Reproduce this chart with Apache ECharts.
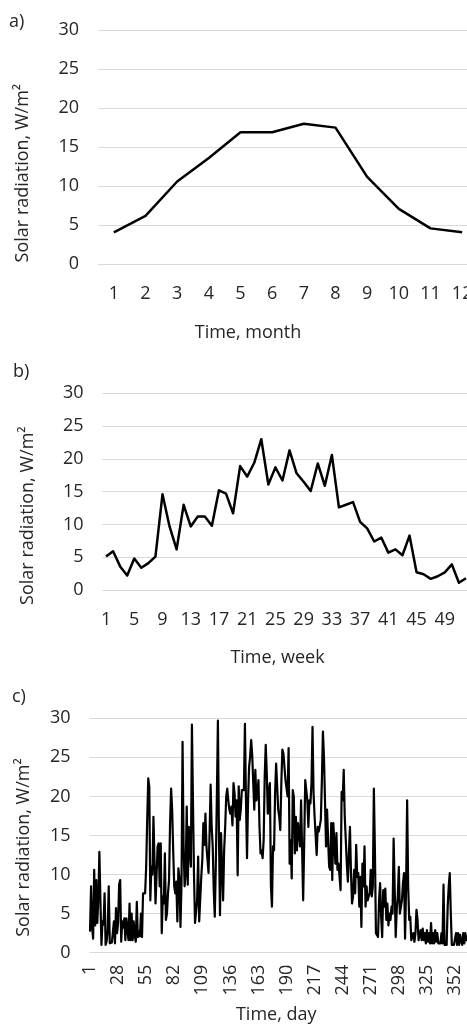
<!DOCTYPE html>
<html>
<head>
<meta charset="utf-8">
<script src="https://cdn.jsdelivr.net/npm/echarts@6/dist/echarts.min.js"></script>
<style>
  html, body { margin: 0; padding: 0; background: #fff; }
  #chart { width: 467px; height: 1025px; }
</style>
</head>
<body>
<div id="chart"></div>
<script>
// ---- data ----
const months = ['1','2','3','4','5','6','7','8','9','10','11','12'];
const monthValues = [4.1, 6.2, 10.6, 13.6, 16.9, 16.9, 18.0, 17.5, 11.2, 7.1, 4.6, 4.1];

const weeks = ['1','2','3','4','5','6','7','8','9','10','11','12','13','14','15','16','17','18','19','20',
  '21','22','23','24','25','26','27','28','29','30','31','32','33','34','35','36','37','38','39','40',
  '41','42','43','44','45','46','47','48','49','50','51','52'];
const weekValues = [5.1, 5.9, 3.6, 2.2, 4.8, 3.4, 4.1, 5.1, 14.6, 9.7,
  6.2, 13.0, 9.7, 11.2, 11.2, 9.8, 15.2, 14.7, 11.7, 18.9,
  17.3, 19.4, 23.0, 16.1, 18.7, 16.7, 21.3, 17.8, 16.5, 15.1,
  19.3, 15.9, 20.6, 12.6, 13.0, 13.4, 10.4, 9.4, 7.4, 8.0,
  5.7, 6.2, 5.3, 8.3, 2.7, 2.4, 1.7, 2.1, 2.7, 3.9,
  1.1, 1.8];

// daily values, days 1-90
const dayValuesPart1 = [2.7, 8.5, 3.3, 1.8, 10.6, 3.5, 9.3, 3.8, 7.0, 12.9,
  6.7, 1.0, 4.0, 3.6, 7.6, 1.0, 1.5, 2.9, 8.5, 1.2,
  1.2, 1.3, 1.2, 4.0, 1.2, 5.7, 2.5, 3.8, 8.7, 9.3,
  1.4, 4.0, 3.2, 4.4, 1.6, 4.4, 3.0, 1.6, 6.3, 1.6,
  5.0, 1.6, 4.0, 2.2, 1.4, 6.5, 2.0, 2.7, 2.1, 5.0,
  2.0, 7.6, 7.8, 7.6, 11.0, 17.0, 22.3, 21.2, 6.7, 11.0,
  10.0, 17.4, 11.8, 6.3, 6.3, 13.6, 14.0, 8.5, 14.0, 2.5,
  7.2, 6.3, 12.7, 4.2, 5.0, 7.6, 9.3, 16.6, 21.0, 18.3,
  13.1, 8.5, 7.6, 9.1, 4.0, 10.8, 9.5, 3.3, 8.9, 27.0];
// days 91-173
const dayValuesPart2 = [13.6, 8.5, 10.2, 18.7, 8.7, 16.1, 13.0, 11.0, 29.2, 19.5,
  10.0, 3.8, 3.8, 6.7, 12.3, 4.0, 4.0, 9.7, 11.9, 16.6,
  13.8, 17.8, 13.6, 11.9, 10.2, 15.3, 21.5, 16.1, 13.6, 8.0,
  4.6, 11.4, 20.0, 29.7, 15.3, 4.8, 15.3, 11.0, 6.7, 13.1,
  16.1, 20.0, 21.0, 19.5, 18.3, 17.8, 18.7, 16.3, 21.7, 20.4,
  17.4, 19.5, 9.9, 21.3, 17.0, 18.3, 20.8, 21.0, 20.8, 29.3,
  19.5, 12.1, 19.5, 23.8, 25.1, 27.2, 25.3, 21.7, 18.3, 23.4,
  19.5, 20.4, 22.1, 16.1, 12.7, 13.1, 12.1, 14.4, 22.5, 26.6,
  23.0, 17.8, 20.8];
// days 174-264
const dayValuesPart3 = [21.7, 8.5, 5.9, 13.6, 13.1, 20.4, 24.2,
  21.3, 18.3, 17.4, 15.7, 21.7, 26.0, 25.5, 23.8, 22.1, 21.9,
  20.0, 26.2, 11.4, 14.4, 9.5, 20.8, 20.0, 12.7, 17.4, 13.1,
  16.6, 15.3, 13.6, 19.5, 13.1, 6.7, 14.0, 22.1, 20.8, 19.5,
  16.1, 19.5, 19.1, 21.7, 28.9, 20.4, 17.4, 17.6, 12.5, 16.1,
  15.5, 15.7, 17.0, 22.1, 28.3, 25.1, 19.5, 13.6, 18.3, 14.4,
  11.0, 10.6, 16.6, 9.3, 16.6, 14.0, 11.4, 15.3, 10.6, 11.4,
  9.7, 8.0, 20.6, 19.5, 23.4, 17.4, 14.4, 11.4, 9.1, 12.7,
  16.1, 10.2, 6.3, 7.2, 10.6, 7.6, 13.8, 9.7, 10.2, 5.9,
  9.7, 3.3, 11.4, 8.5];
// days 265-365
const dayValuesPart4 = [13.6, 5.9, 8.5, 6.7, 7.2, 7.6,
  10.6, 7.2, 8.5, 21.0, 13.1, 2.5, 2.3, 2.0, 6.7, 8.9,
  4.6, 2.0, 8.0, 5.9, 8.2, 4.2, 6.3, 3.5, 5.0, 4.2,
  5.9, 5.0, 14.6, 8.5, 2.0, 5.5, 7.2, 11.0, 5.0, 5.0,
  6.7, 8.9, 10.2, 1.8, 8.5, 19.5, 8.5, 4.2, 4.6, 1.6,
  1.4, 2.5, 1.4, 2.5, 5.5, 4.2, 1.6, 1.4, 2.9, 1.6,
  3.1, 1.6, 2.5, 1.2, 2.9, 1.4, 2.5, 1.2, 3.8, 1.2,
  2.5, 1.2, 2.9, 1.4, 2.5, 1.2, 1.0, 1.2, 2.5, 1.2,
  8.7, 1.0, 1.0, 1.0, 5.9, 8.5, 10.2, 5.0, 1.0, 0.8,
  1.0, 0.8, 2.5, 1.0, 2.5, 1.0, 2.3, 1.4, 1.0, 2.5,
  1.2, 2.5, 1.6, 2.0, 1.5];
const dayValues = dayValuesPart1.concat(dayValuesPart2, dayValuesPart3, dayValuesPart4);
const days = dayValues.map((v, i) => String(i + 1));

const yTicks = { min: 0, max: 30, interval: 5 };
const yName = 'Solar radiation, W/m\u00B2';
const panelLabels = ['a)', 'b)', 'c)'];
const xNames = ['Time, month', 'Time, week', 'Time, day'];

// ---- styles ----
const FONT = '"Open Sans", "Noto Sans", sans-serif';
const TXT = '#262626';
const GRID = '#d9d9d9';

function yAxis(gridIndex, nameGap, shift) {
  return {
    type: 'value', gridIndex: gridIndex,
    min: yTicks.min, max: yTicks.max, interval: yTicks.interval,
    name: yName, nameLocation: 'middle', nameGap: nameGap, nameMoveOverlap: false,
    nameTextStyle: { fontSize: 18, color: TXT, fontFamily: FONT, padding: [0, shift, 0, 0] },
    axisLine: { show: false }, axisTick: { show: false },
    axisLabel: { fontSize: 18, color: TXT, fontFamily: FONT, margin: 19 },
    splitLine: { show: true, lineStyle: { color: GRID, width: 1 } }
  };
}
function xAxis(gridIndex, data, name, nameGap, shift, labelOpts) {
  return {
    type: 'category', gridIndex: gridIndex, data: data, boundaryGap: true,
    name: name, nameLocation: 'middle', nameGap: nameGap, nameMoveOverlap: false,
    nameTextStyle: { fontSize: 18, color: TXT, fontFamily: FONT, padding: [0, shift, 0, 0] },
    axisLine: { show: false }, axisTick: { show: false },
    axisLabel: Object.assign({ fontSize: 18, color: TXT, fontFamily: FONT }, labelOpts),
    splitLine: { show: false }
  };
}
function lineSeries(idx, data, width) {
  return {
    type: 'line', xAxisIndex: idx, yAxisIndex: idx, data: data,
    showSymbol: false, symbol: 'none', smooth: false,
    lineStyle: { color: '#000', width: width, join: 'round' },
    emphasis: { disabled: true }, silent: true, animation: false
  };
}

const chart = echarts.init(document.getElementById('chart'), null, { renderer: 'canvas' });
chart.setOption({
  backgroundColor: '#fff',
  animation: false,
  title: [
    { text: panelLabels[0], left: 9, top: 13, padding: 0, textStyle: { fontSize: 18, fontWeight: 'normal', color: TXT, fontFamily: FONT } },
    { text: panelLabels[1], left: 13, top: 363, padding: 0, textStyle: { fontSize: 18, fontWeight: 'normal', color: TXT, fontFamily: FONT } },
    { text: panelLabels[2], left: 12, top: 688, padding: 0, textStyle: { fontSize: 18, fontWeight: 'normal', color: TXT, fontFamily: FONT } }
  ],
  grid: [
    { left: 98, top: 30, width: 380, height: 234.3, outerBoundsMode: 'none', containLabel: false },
    { left: 102.5, top: 393.3, width: 367, height: 196.7, outerBoundsMode: 'none', containLabel: false },
    { left: 89.5, top: 718.3, width: 379.5, height: 234.4, outerBoundsMode: 'none', containLabel: false }
  ],
  xAxis: [
    xAxis(0, months, xNames[0], 60, 80, { interval: 0, margin: 21 }),
    xAxis(1, weeks, xNames[1], 59, 17, { interval: 3, margin: 21 }),
    xAxis(2, days, xNames[2], 53, 6, { interval: 26, rotate: 90, margin: 12 })
  ],
  yAxis: [
    yAxis(0, 66, 52),
    yAxis(1, 66, 48),
    yAxis(2, 57, 24)
  ],
  series: [
    lineSeries(0, monthValues, 2.5),
    lineSeries(1, weekValues, 2.5),
    lineSeries(2, dayValues, 2.2)
  ]
});
</script>
</body>
</html>
